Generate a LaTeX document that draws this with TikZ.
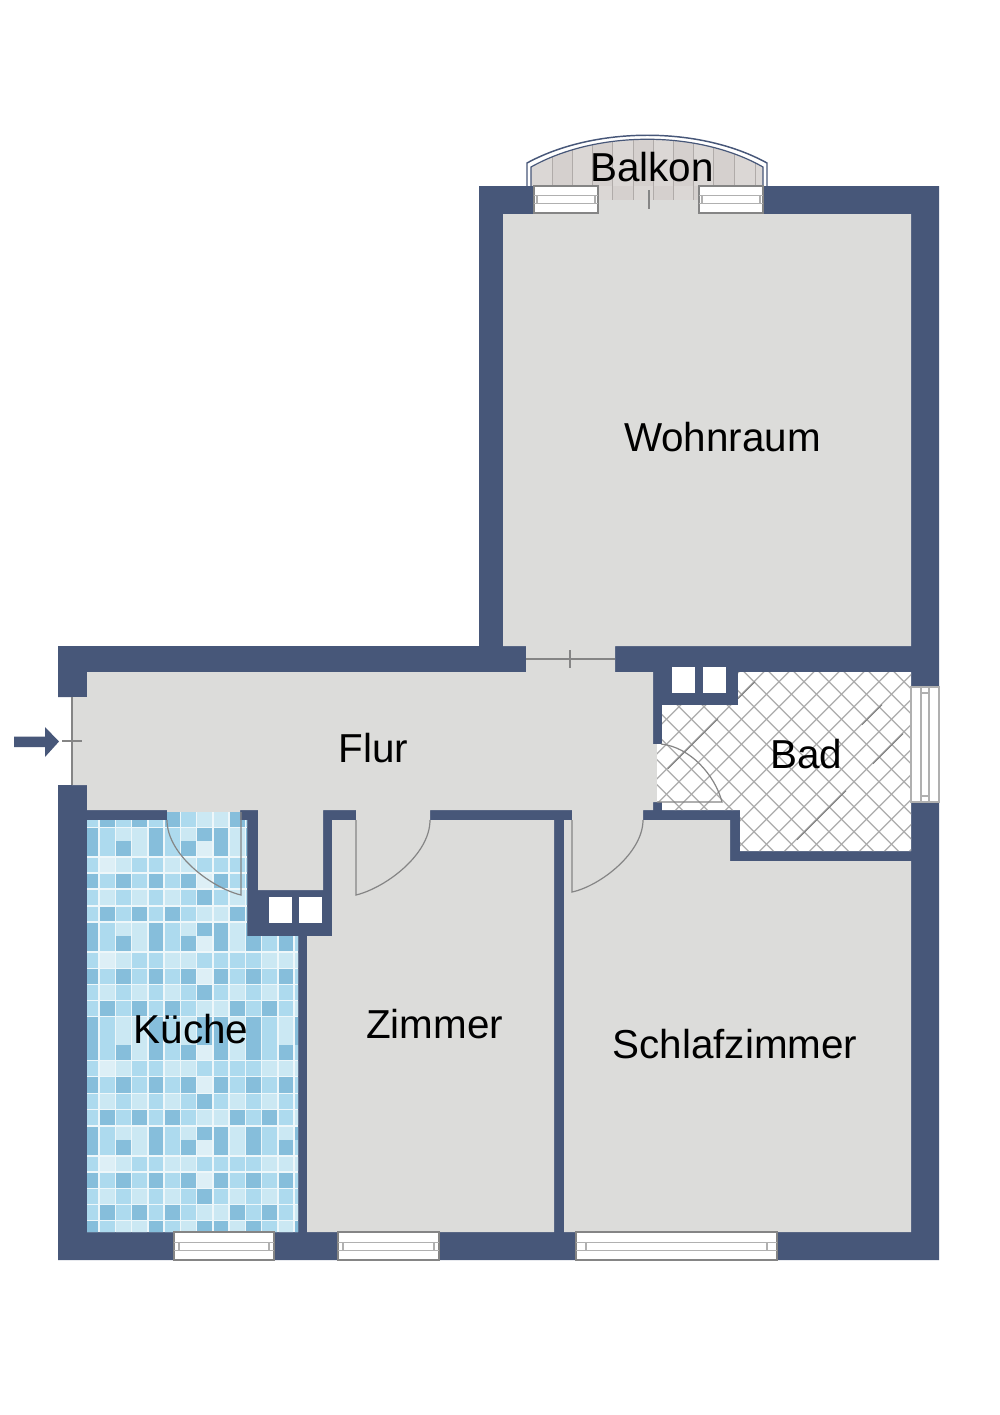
\documentclass[tikz,border=0pt]{standalone}
\usepackage{fontspec}
\setmainfont{Liberation Sans}
\definecolor{wall}{HTML}{475779}
\definecolor{room}{HTML}{DCDCDA}
\definecolor{fitting}{HTML}{858585}
\definecolor{rail}{HTML}{B0B0B0}
\definecolor{kt0}{HTML}{DDEFF6}
\definecolor{kt1}{HTML}{CBE8F3}
\definecolor{kt2}{HTML}{ADDAEE}
\definecolor{kt3}{HTML}{86BEDB}
\definecolor{grout}{HTML}{EEF7FA}
\definecolor{plankA}{HTML}{DBD7D5}
\definecolor{plankB}{HTML}{D5D0CE}
\definecolor{plankline}{HTML}{B0ABA9}
\definecolor{lattice}{HTML}{ABABAB}
\definecolor{latticedark}{HTML}{7A7A7A}
\tikzset{
  wallfill/.style={fill=wall},
  roomfill/.style={fill=room},
  fitline/.style={draw=fitting,line width=1pt},
  doorline/.style={draw=fitting,line width=0.9pt},
  railline/.style={draw=rail,line width=0.8pt},
  windowbox/.style={fill=white,draw=fitting,line width=1.1pt},
  flue/.style={fill=white},
  label/.style={inner sep=0pt,anchor=base,font=\fontsize{30.3}{36}\selectfont,text=black}
}
% horizontal window: x1 y1 x2 y2 tick-inset
\newcommand\hwindow[5]{%
  \path[windowbox] (#1,#2) rectangle (#3,#4);
  \draw[railline] (#1,{#2+0.36*(#4-#2)}) -- (#3,{#2+0.36*(#4-#2)});
  \draw[railline] (#1,{#2+0.66*(#4-#2)}) -- (#3,{#2+0.66*(#4-#2)});
  \draw[railline] ({#1+#5},{#2+0.36*(#4-#2)}) -- ({#1+#5},{#2+0.66*(#4-#2)});
  \draw[railline] ({#3-#5},{#2+0.36*(#4-#2)}) -- ({#3-#5},{#2+0.66*(#4-#2)});
}
\newcommand\tilerow[3]{%
  \foreach \v [count=\k from 0] in {#3}{
    \fill[kt\v] ({82.8+16.25*\k+0.7},{#1+0.7}) rectangle ({82.8+16.25*(\k+1)-0.7},{#2-0.7});
  }
}
\newcommand\tra[2]{\tilerow{#1}{#2}{3,2,1,1,3,2,1,3,3,1,3,2,1,3}}
\newcommand\trb[2]{\tilerow{#1}{#2}{3,2,3,1,3,2,3,0,3,1,3,2,3,2}}
\newcommand\trc[2]{\tilerow{#1}{#2}{2,0,1,2,2,1,1,2,2,2,2,1,1,1}}
\newcommand\trd[2]{\tilerow{#1}{#2}{3,2,3,2,3,2,3,0,3,2,3,2,3,2}}
\newcommand\tre[2]{\tilerow{#1}{#2}{2,1,2,1,2,1,2,3,2,1,2,1,2,2}}
\newcommand\trf[2]{\tilerow{#1}{#2}{2,3,2,3,2,3,2,1,1,3,2,3,2,1}}
\begin{document}
\begin{tikzpicture}[x=0.75pt,y=-0.75pt]
\useasboundingbox (0,0) rectangle (1000,1415);
\fill[white] (0,0) rectangle (1000,1415);

% balcony
\draw[draw=wall,line width=1.1pt,fill=white] (527,187) -- (527,163) .. controls (595,126) and (700,126) .. (767,163) -- (767,187);
\begin{scope}
  \clip (531,190) -- (531,167) .. controls (597,130) and (698,130) .. (763,167) -- (763,190) -- cycle;
  \fill[plankA] (525,130) rectangle (770,190);
  \foreach \xa/\xb in {552/572,592/612,633/653,673/693,713/734}
    \fill[plankB] (\xa,130) rectangle (\xb,190);
  \foreach \xa in {552,572,592,612,633,653,673,693,713,734,755}
    \draw[plankline,line width=0.6pt] (\xa,130) -- (\xa,190);
\end{scope}
\draw[draw=wall,line width=0.9pt] (531,187) -- (531,167) .. controls (597,130) and (698,130) .. (763,167) -- (763,187);

% walls
\fill[wallfill] (479,186) -- (939,186) -- (939,1260) -- (58,1260) -- (58,785) -- (72,785) -- (72,697) -- (58,697) -- (58,646) -- (479,646) -- cycle;

% rooms
\fill[roomfill] (503,214) -- (911,214) -- (911,646) -- (615,646) -- (615,672) -- (526,672) -- (526,646) -- (503,646) -- cycle;
\fill[plankA] (598,186) rectangle (699,200);
\foreach \xa/\xb in {612/633,653/673,693/699}
  \fill[plankB] (\xa,186) rectangle (\xb,200);
\foreach \xa in {612,633,653,673,693}
  \draw[plankline,line width=0.6pt] (\xa,186) -- (\xa,200);
\fill[roomfill] (598,200) rectangle (699,215);
\fill[roomfill] (87,672) -- (653,672) -- (653,744) -- (657,744) -- (657,802) -- (653,802) -- (653,810) -- (643,810) -- (643,821) -- (572,821) -- (572,810) -- (430,810) -- (430,821) -- (356,821) -- (356,810) -- (323,810) -- (323,890) -- (258,890) -- (258,810) -- (240,810) -- (240,812) -- (167,812) -- (167,810) -- (87,810) -- (87,785) -- (72,785) -- (72,697) -- (87,697) -- cycle;
\fill[roomfill] (332,820) -- (554,820) -- (554,1232) -- (307,1232) -- (307,936) -- (332,936) -- cycle;
\fill[roomfill] (564,820) -- (730,820) -- (730,861) -- (911,861) -- (911,1232) -- (564,1232) -- cycle;

% kitchen tiles
\begin{scope}
  \clip (87,820) -- (167,820) -- (167,812) -- (240,812) -- (240,820) -- (247,820) -- (247,936) -- (298,936) -- (298,1232) -- (87,1232) -- cycle;
  \fill[grout] (80,805) rectangle (300,1235);
  \trf{811.3}{827.3}
  \tra{827.3}{842}
  \trb{840.6}{857}
  \trc{857}{873}
  \trd{873}{889}
  \tre{889}{906}
  \trf{906}{922}
  \tra{922}{936.7}
  \trb{935.3}{952}
  \trc{952}{968.3}
  \trd{968.3}{984.3}
  \tre{984.3}{1000.7}
  \trf{1000.7}{1016.7}
  \tra{1016.7}{1030.7}
  \tra{1029.3}{1045.7}
  \trb{1044.3}{1060.7}
  \trc{1060.7}{1076.7}
  \trd{1076.7}{1093.3}
  \tre{1093.3}{1109.3}
  \trf{1109.3}{1126}
  \tra{1126}{1140.7}
  \trb{1139.3}{1156}
  \trc{1156}{1172}
  \trd{1172}{1188.3}
  \tre{1188.3}{1204.3}
  \trf{1204.3}{1220.7}
  \tra{1220.7}{1236}
\end{scope}

% bathroom tiles
\begin{scope}
  \clip (738,672) -- (911,672) -- (911,851) -- (740,851) -- (740,810) -- (662,810) -- (662,802) -- (657,802) -- (657,744) -- (662,744) -- (662,705) -- (738,705) -- cycle;
  \fill[white] (650,665) rectangle (915,855);
  \foreach \i in {0,...,22}{
    \draw[lattice,line width=0.9pt] ({1385.7+25*(\i-4)-640},640) -- ({1385.7+25*(\i-4)-880},880);
    \draw[lattice,line width=0.9pt] ({-27.7+25*(\i-4)+640},640) -- ({-27.7+25*(\i-4)+880},880);
  }
  \draw[latticedark,line width=0.7pt] (755,681.7) -- (738,698.7);
  \draw[latticedark,line width=0.7pt] (718,718.7) -- (668,768.7);
  \draw[latticedark,line width=0.7pt] (846,790.7) -- (797,839.7);
  \draw[latticedark,line width=0.7pt] (903,733.7) -- (873,763.7);
  \draw[latticedark,line width=0.7pt] (882,704.7) -- (862,724.7);
\end{scope}

% flues
\fill[flue] (672,667) rectangle (695,693);
\fill[flue] (703,667) rectangle (726,693);
\fill[flue] (269,897) rectangle (292,923);
\fill[flue] (299,897) rectangle (322,923);

% windows
\hwindow{534}{186}{598}{213}{3}
\hwindow{699}{186}{763}{213}{3}
\hwindow{174}{1232}{274}{1260}{5}
\hwindow{338}{1232}{439}{1260}{5}
\hwindow{576}{1232}{777}{1260}{10}
\path[fill=white,draw=rail,line width=0.9pt] (911,687) rectangle (939,802);
\draw[railline] (921,687) -- (921,802);
\draw[railline] (929,687) -- (929,802);
\draw[railline] (921,693) -- (929,693);
\draw[railline] (921,796) -- (929,796);

% sliding doors and entrance
\draw[fitline] (526,659) -- (615,659);
\draw[fitline] (570,650) -- (570,668);
\draw[fitline] (649,190) -- (649,209);
\draw[fitline] (72,697) -- (72,785);
\draw[fitline] (62,741) -- (82,741);

% swing doors
\draw[doorline] (241,812) -- (241,895) .. controls (212,888) and (167,855) .. (167,820);
\draw[doorline] (356,820) -- (356,895) .. controls (385,888) and (430,855) .. (430,820);
\draw[doorline] (572,820) -- (572,892) .. controls (600,886) and (643,853) .. (643,820);
\draw[doorline] (657,802) -- (722,802) .. controls (715,775) and (690,747) .. (661,744);

% entrance arrow
\fill[wallfill] (14,736.5) -- (45,736.5) -- (45,727) -- (59,741.5) -- (45,757) -- (45,747) -- (14,747) -- cycle;

% labels
\node[label] (balkon) at (652,181) {Balkon};
\node[label] (wohnraum) at (722.5,451) {Wohnraum};
\node[label] (flur) at (373.5,762) {Flur};
\node[label] (bad) at (806,768) {Bad};
\node[label] (kueche) at (191,1043) {Küche};
\node[label] (zimmer) at (434.5,1038) {Zimmer};
\node[label] (schlafzimmer) at (735,1058) {Schlafzimmer};
\end{tikzpicture}
\end{document}
